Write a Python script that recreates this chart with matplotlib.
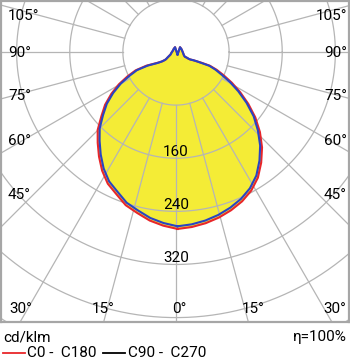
import numpy as np
import matplotlib.pyplot as plt
from matplotlib.lines import Line2D

plt.rcParams['font.family'] = ['Roboto', 'DejaVu Sans']

# luminous intensity, cd/klm
angles = [0, 5, 10, 15, 20, 25, 30, 35, 40, 45, 50, 55, 60, 65, 70, 75, 80, 85,
          90, 95, 100, 105, 110, 120, 130, 140, 150, 160, 165, 171, 176, 180]
c0 = [250, 248, 245, 241, 236, 230, 222, 211, 196, 180, 162, 143, 123, 104, 87, 72, 60, 49,
      37, 29, 24, 20, 18, 16, 14.5, 15, 17, 20, 22, 24, 16, 12]
c180 = [250, 246, 241, 234, 228, 218, 210, 198, 184, 170, 157, 140, 126, 110, 94, 78, 64, 47,
        31, 24, 21, 19, 18, 17, 16.5, 16.5, 18, 20, 22, 24, 16, 12]
c90 = [246, 244, 241, 237, 232, 226, 218, 207, 192, 176, 158, 140, 120, 101, 84, 69, 58, 48,
       36, 29, 24, 20, 18, 16, 14.5, 15, 17, 20, 22, 24, 16, 12]
c270 = [246, 242, 237, 230, 224, 214, 206, 194, 180, 166, 153, 137, 123, 107, 91, 75, 62, 45,
        30, 24, 21, 19, 18, 17, 16.5, 16.5, 18, 20, 22, 24, 16, 12]

rings = [80, 160, 240, 320, 400, 480]
ring_labels = [160, 240, 320]
spoke_step = 15
side_labels = ['105°', '90°', '75°', '60°', '45°']
bottom_labels = ['30°', '15°', '0°', '15°', '30°']

# curve origin sits a little below the grid centre in the original
OX, OY = 2.3, -16.5


def curve(right, left):
    a = np.radians(angles)
    xr = OX + np.array(right) * np.sin(a)
    yr = OY - np.array(right) * np.cos(a)
    xl = OX - np.array(left) * np.sin(a)
    yl = OY - np.array(left) * np.cos(a)
    return np.r_[xr, xl[::-1]], np.r_[yr, yl[::-1]]


fig = plt.figure(figsize=(3.5, 3.6), dpi=100)
ax = fig.add_axes([0.5 / 350, 38 / 360, 348.5 / 350, 321.5 / 360])
s = 0.664  # px per cd/klm
ax.set_xlim(-175.5 / s, 173 / s)
ax.set_ylim(-270 / s, 51.5 / s)
ax.set_xticks([])
ax.set_yticks([])
for sp in ax.spines.values():
    sp.set_color('#a6a6a6')
    sp.set_linewidth(1.6)

gc = '#b5b5b5'
xa, ya = curve(c0, c180)
ax.fill(xa, ya, color='#f4ec36', lw=0, zorder=1)

t = np.linspace(0, 2 * np.pi, 400)
for r in rings:
    ax.plot(r * np.cos(t), r * np.sin(t), color=gc, lw=0.9, zorder=2)
for d in range(0, 360, spoke_step):
    a = np.radians(d)
    ax.plot([80 * np.sin(a), 800 * np.sin(a)], [-80 * np.cos(a), -800 * np.cos(a)],
            color=gc, lw=0.9, zorder=2)

ax.plot(xa, ya, color='#e8262a', lw=1.5, zorder=3)
xb, yb = curve(c90, c270)
ax.plot(xb, yb, color='#2844c4', lw=1.5, zorder=4)

for v in ring_labels:
    ax.text(0, -v + 10, str(v), ha='center', va='center', fontsize=11, zorder=5)

# angle labels around the frame
side_y = [16, 53, 96, 141, 195]
for lab, py in zip(side_labels, side_y):
    fig.text(8 / 350, 1 - py / 360, lab, ha='left', va='center', fontsize=11)
    fig.text(347 / 350, 1 - py / 360, lab, ha='right', va='center', fontsize=11)
bottom_x = [21, 103, 179, 253, 335]
for lab, px in zip(bottom_labels, bottom_x):
    fig.text(px / 350, 1 - 309 / 360, lab, ha='center', va='center', fontsize=11)

fig.text(3 / 350, 1 - 337 / 360, 'cd/klm', ha='left', va='center', fontsize=11)
fig.text(347 / 350, 1 - 337 / 360, 'η=100%', ha='right', va='center', fontsize=11)
ly = 1 - 353 / 360
fig.add_artist(Line2D([3 / 350, 25 / 350], [ly, ly], color='#e8262a', lw=1.3))
fig.text(27 / 350, ly, 'C0 -  C180', ha='left', va='center', fontsize=11)
fig.add_artist(Line2D([103 / 350, 125 / 350], [ly, ly], color='black', lw=1.3))
fig.text(128 / 350, ly, 'C90 -  C270', ha='left', va='center', fontsize=11)

fig.savefig('out.png', dpi=100)
